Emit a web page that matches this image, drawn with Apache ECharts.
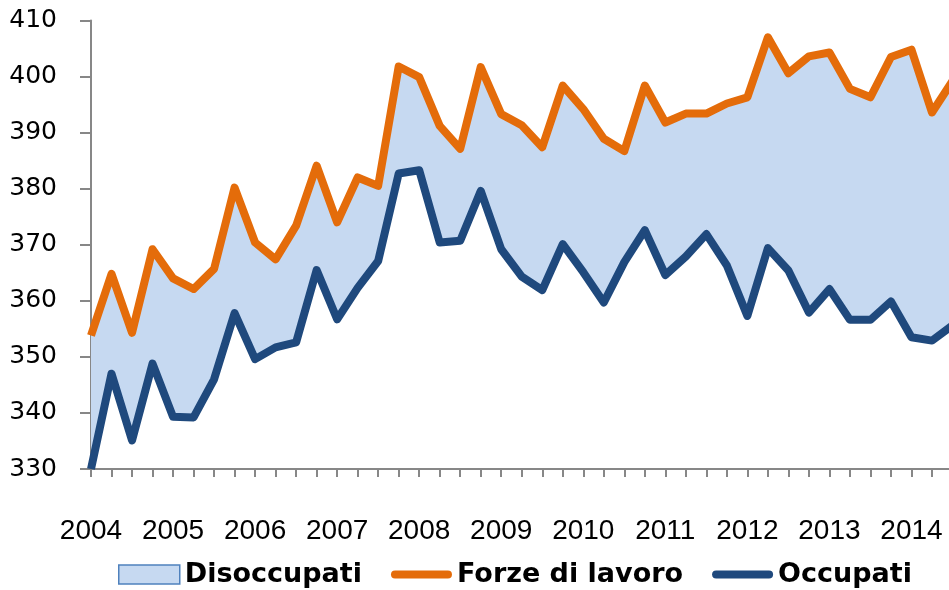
<!DOCTYPE html>
<html>
<head>
<meta charset="utf-8">
<script src="https://cdn.jsdelivr.net/npm/echarts@6/dist/echarts.min.js"></script>
<style>
  html, body { margin: 0; padding: 0; background: #fff; }
  #container { width: 949px; height: 590px; }
</style>
</head>
<body>
<div id="container"></div>
<script>
'use strict';

// quarters, 2004 Q1 .. 2014 Q3
var years = ['2004', '2005', '2006', '2007', '2008', '2009', '2010', '2011', '2012', '2013', '2014'];
var quarters = ['T1', 'T2', 'T3', 'T4'];

var forzeLavoro = [353.8, 364.8, 354.3, 369.2, 364.0, 362.1, 365.7, 380.2, 370.4, 367.4,
  373.4, 384.1, 374.0, 382.0, 380.5, 401.8, 399.9, 391.2, 387.1, 401.7,
  393.3, 391.3, 387.4, 398.4, 394.2, 388.9, 386.7, 398.4, 391.8, 393.4,
  393.4, 395.2, 396.3, 407.0, 400.6, 403.6, 404.3, 397.8, 396.3, 403.5,
  404.8, 393.6, 399.2];

var occupati = [330.0, 347.0, 335.1, 348.8, 339.3, 339.2, 346.0, 357.8, 349.6, 351.7,
  352.6, 365.5, 356.7, 362.3, 367.1, 382.7, 383.3, 370.4, 370.7, 379.6,
  369.2, 364.3, 361.9, 370.1, 365.1, 359.7, 366.9, 372.6, 364.6, 367.9,
  371.9, 366.3, 357.3, 369.4, 365.4, 357.9, 362.1, 356.6, 356.6, 359.9,
  353.5, 352.9, 355.6];

var categories = [];
years.forEach(function(y) {
  quarters.forEach(function(q) {
    if (categories.length < forzeLavoro.length) categories.push(y + ' ' + q);
  });
});

// disoccupati = forze di lavoro - occupati (band between the two lines)
var disoccupati = forzeLavoro.map(function(v, i) {
  return +(v - occupati[i]).toFixed(1);
});

var lineIcon = 'path://M4,0 H56 A4,4 0 0 1 56,8 H4 A4,4 0 0 1 4,0 Z';

var dom = document.getElementById('container');
var myChart = echarts.init(dom, null, { renderer: 'canvas' });

myChart.setOption({
  animation: false,
  grid: {
    left: 91,
    top: 20.5,
    bottom: 121,
    right: -3.5,
    containLabel: false,
    outerBoundsMode: 'none'
  },
  legend: {
    left: 113,
    top: 556,
    itemWidth: 61,
    itemHeight: 19,
    itemGap: 29,
    textStyle: {
      fontFamily: 'DejaVu Sans',
      fontWeight: 'bold',
      fontSize: 27,
      color: '#000'
    },
    data: [
      { name: 'Disoccupati', icon: 'rect', itemStyle: { color: '#C6D9F1', borderColor: '#4F81BD', borderWidth: 1.5 } },
      { name: 'Forze di lavoro', icon: lineIcon, itemStyle: { color: '#E46C0A' } },
      { name: 'Occupati', icon: lineIcon, itemStyle: { color: '#1F497D' } }
    ]
  },
  xAxis: {
    type: 'category',
    data: categories,
    boundaryGap: false,
    axisLine: { lineStyle: { color: '#878787', width: 2 } },
    axisTick: { show: true, interval: 0, length: 8, lineStyle: { color: '#878787', width: 2 } },
    axisLabel: {
      interval: 3,
      margin: 48,
      fontFamily: 'Liberation Sans',
      fontSize: 28,
      color: '#000',
      formatter: function(v) { return v.split(' ')[0]; }
    },
    splitLine: { show: false }
  },
  yAxis: {
    type: 'value',
    min: 330,
    max: 410,
    interval: 10,
    axisLine: { show: true, lineStyle: { color: '#878787', width: 2 } },
    axisTick: { show: true, length: 11, lineStyle: { color: '#878787', width: 2 } },
    axisLabel: {
      margin: 34,
      fontFamily: 'DejaVu Sans',
      fontSize: 25,
      color: '#000'
    },
    splitLine: { show: false }
  },
  series: [
    {
      name: 'base',
      type: 'line',
      stack: 'band',
      data: occupati,
      symbol: 'none',
      silent: true,
      lineStyle: { opacity: 0 },
      z: 1
    },
    {
      name: 'Disoccupati',
      type: 'line',
      stack: 'band',
      data: disoccupati,
      symbol: 'none',
      silent: true,
      lineStyle: { opacity: 0 },
      itemStyle: { color: '#C6D9F1' },
      areaStyle: { color: '#C6D9F1', opacity: 1 },
      z: 1
    },
    {
      name: 'Forze di lavoro',
      type: 'line',
      data: forzeLavoro,
      symbol: 'none',
      itemStyle: { color: '#E46C0A' },
      lineStyle: { color: '#E46C0A', width: 8, join: 'round' },
      z: 3
    },
    {
      name: 'Occupati',
      type: 'line',
      data: occupati,
      symbol: 'none',
      itemStyle: { color: '#1F497D' },
      lineStyle: { color: '#1F497D', width: 8, join: 'round' },
      z: 3
    }
  ]
});
</script>
</body>
</html>
